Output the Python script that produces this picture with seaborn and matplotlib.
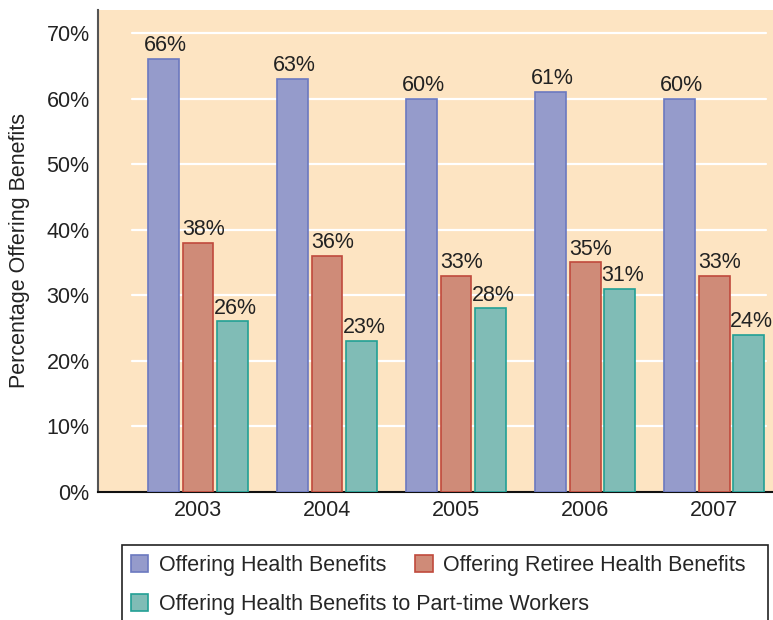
import pandas as pd
import matplotlib.pyplot as plt
import seaborn as sns
from matplotlib.patches import Patch, Rectangle

# Data
years = ['2003', '2004', '2005', '2006', '2007']
health = [66, 63, 60, 61, 60]
retiree = [38, 36, 33, 35, 33]
part_time = [26, 23, 28, 31, 24]
series_names = ['Offering Health Benefits',
                'Offering Retiree Health Benefits',
                'Offering Health Benefits to Part-time Workers']
y_ticks = [0, 10, 20, 30, 40, 50, 60, 70]

fills = ['#959bcb', '#cf8b78', '#80bcb6']
edges = ['#6b79c0', '#c04a3c', '#22a095']
bg = '#fde4c2'
fs = 15.5

df = pd.DataFrame({
    'Year': years * 3,
    'Value': health + retiree + part_time,
    'Series': [s for s in series_names for _ in years],
})

sns.set_style('white')
plt.rcParams['font.family'] = ['Liberation Sans', 'DejaVu Sans']

fig = plt.figure(figsize=(7.73, 6.2), dpi=100)
ax = fig.add_axes([98 / 773, 1 - 492 / 620, 675 / 773, 482 / 620])
ax.set_facecolor(bg)

sns.barplot(data=df, x='Year', y='Value', hue='Series', hue_order=series_names,
            palette=fills, saturation=1, width=0.8, gap=0.1, linewidth=1.2,
            legend=False, zorder=3, ax=ax)

# value labels, nudged a little right like the original
nudge = [1, 4, 2]
for i, (cont, ec) in enumerate(zip(ax.containers, edges)):
    for bar in cont:
        bar.set_edgecolor(ec)
    anns = ax.bar_label(cont, labels=[f'{int(v)}%' for v in cont.datavalues],
                        padding=2, fontsize=fs, color='#222222')
    for a in anns:
        a.xyann = (nudge[i], 2)

# white gridlines that stop short of the axis
for t in y_ticks[1:]:
    ax.axhline(t, xmin=0.05, xmax=0.99, color='white', lw=1.6, zorder=1)

ax.set_xlim(-0.775, 4.457)
ax.set_ylim(0, 73.5)
ax.set_yticks(y_ticks, labels=[f'{t}%' for t in y_ticks])
ax.tick_params(axis='y', direction='in', length=11, width=1, color='#333333',
               pad=6, labelsize=fs, labelcolor='#222222')
ax.tick_params(axis='x', length=0, pad=6, labelsize=fs, labelcolor='#222222')
ax.set_xlabel('')
ax.set_ylabel('Percentage Offering Benefits', fontsize=fs, color='#222222', labelpad=12)

for side in ['top', 'right']:
    ax.spines[side].set_visible(False)
ax.spines['left'].set_color('#555555')
ax.spines['left'].set_linewidth(1.5)
ax.spines['bottom'].set_color('#111111')
ax.spines['bottom'].set_linewidth(1.5)

# legend: two rows, first row two entries, second row one entry, shared frame
handles = [Patch(facecolor=f, edgecolor=e, lw=1.2) for f, e in zip(fills, edges)]
leg_kw = dict(loc='upper left', fontsize=fs, frameon=False, handlelength=0.8,
              handleheight=0.8, handletextpad=0.5, columnspacing=1.35,
              borderpad=0, borderaxespad=0)
leg1 = fig.legend(handles[:2], series_names[:2], ncol=2,
                  bbox_to_anchor=(131 / 773, 1 - 555 / 620), **leg_kw)
leg2 = fig.legend(handles[2:], series_names[2:],
                  bbox_to_anchor=(131 / 773, 1 - 594 / 620), **leg_kw)
fig.add_artist(Rectangle((122 / 773, -0.05), (768 - 122) / 773, 0.05 + (620 - 545) / 620,
                         transform=fig.transFigure, fill=False,
                         edgecolor='#222222', lw=1.2))

fig.savefig('out.png', dpi=100)
